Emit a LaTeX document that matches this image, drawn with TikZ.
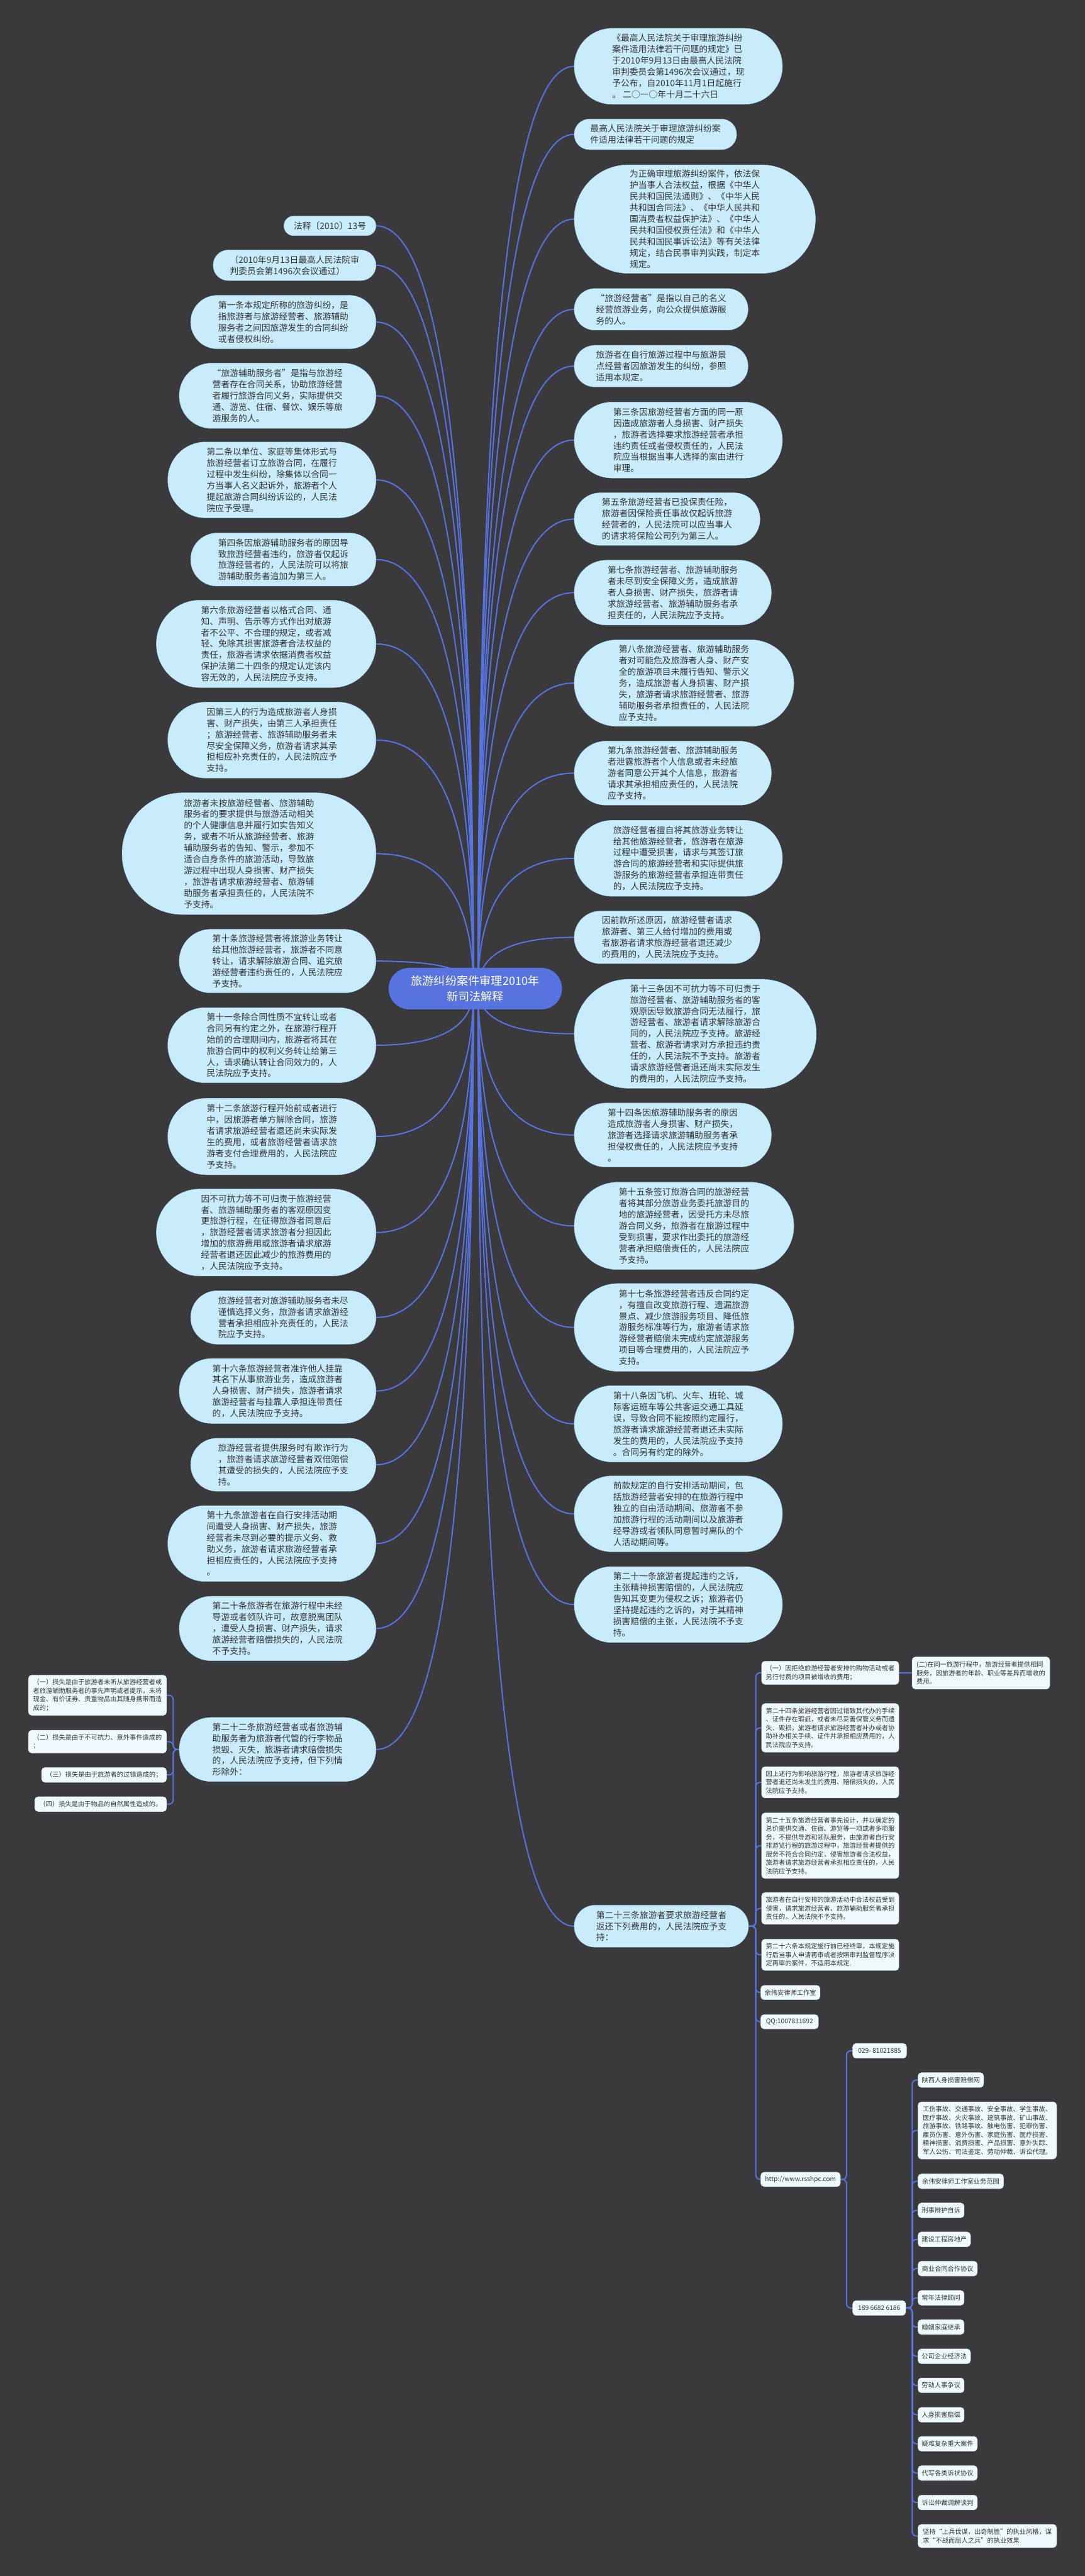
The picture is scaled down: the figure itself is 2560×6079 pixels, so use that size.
\documentclass[tikz,border=0pt]{standalone}
\usepackage{fontspec}
\setmainfont{Noto Sans CJK SC}
\usetikzlibrary{calc}
\definecolor{bgc}{HTML}{3A393B}
\definecolor{linec}{HTML}{5673DF}
\definecolor{bubfill}{HTML}{C8ECFC}
\definecolor{bubline}{HTML}{A8D8F0}
\definecolor{rectfill}{HTML}{EFFAFE}
\definecolor{rectline}{HTML}{C9DCE4}
\definecolor{txt}{HTML}{333333}
\pgfdeclarelayer{back}\pgfdeclarelayer{bg}
\pgfsetlayers{back,bg,main}
\newcommand\bub[6]{\node[bubble,minimum width=#4*0.5pt,minimum height=#5*0.5pt,rounded corners=#5*0.25pt-0.2pt] (#1) at (#2,#3) {#6};}
\newcommand\rbox[6]{\node[rbx,minimum width=#4*0.5pt,minimum height=#5*0.5pt] (#1) at (#2,#3) {#6};}
\begin{document}
\begin{tikzpicture}[x=0.5pt,y=-0.5pt,
  bubble/.style={draw=bubline,line width=0.4pt,fill=bubfill,text=txt,align=left,inner sep=0pt,font=\fontsize{10.25}{13.3}\selectfont},
  rbx/.style={draw=rectline,line width=0.4pt,fill=rectfill,rounded corners=4pt,text=txt,align=left,inner sep=0pt,font=\fontsize{7.6}{10}\selectfont},
  conn/.style={draw=linec,line width=1.5pt},
  sub/.style={draw=linec,line width=1.5pt,rounded corners=5pt}]
\begin{pgfonlayer}{back}
\fill[bgc] (0,0) rectangle (2560,6079);
\end{pgfonlayer}
\useasboundingbox (0,0) rectangle (2560,6079);

% centre
\node[fill=linec,text=white,align=center,inner sep=0pt,minimum width=204.5pt,minimum height=49pt,rounded corners=24.3pt,font=\fontsize{13.5}{19}\selectfont] (C) at (1121.5,2333) {旅游纠纷案件审理2010年\\新司法解释};
\coordinate (cl) at (1117,2333);
\coordinate (cr) at (1128,2333);

% right column
\bub{R1}{1600.5}{156.5}{491}{179}{《最高人民法院关于审理旅游纠纷\\案件适用法律若干问题的规定》已\\于2010年9月13日由最高人民法院\\审判委员会第1496次会议通过，现\\予公布，自2010年11月1日起施行\\。 二○一○年十月二十六日}
\bub{R2}{1546.5}{317}{383}{72}{最高人民法院关于审理旅游纠纷案\\件适用法律若干问题的规定}
\bub{R3}{1639.5}{517}{569}{256}{为正确审理旅游纠纷案件，依法保\\护当事人合法权益，根据《中华人\\民共和国民法通则》、《中华人民\\共和国合同法》、《中华人民共和\\国消费者权益保护法》、《中华人\\民共和国侵权责任法》和《中华人\\民共和国民事诉讼法》等有关法律\\规定，结合民事审判实践，制定本\\规定。}
\bub{R4}{1560}{730}{410}{98}{“旅游经营者”是指以自己的名义\\经营旅游业务，向公众提供旅游服\\务的人。}
\bub{R5}{1560}{864}{410}{98}{旅游者在自行旅游过程中与旅游景\\点经营者因旅游发生的纠纷，参照\\适用本规定。}
\bub{R6}{1600.5}{1038.5}{491}{179}{第三条因旅游经营者方面的同一原\\因造成旅游者人身损害、财产损失\\，旅游者选择要求旅游经营者承担\\违约责任或者侵权责任的，人民法\\院应当根据当事人选择的案由进行\\审理。}
\bub{R7}{1574}{1225}{438}{124}{第五条旅游经营者已投保责任险，\\旅游者因保险责任事故仅起诉旅游\\经营者的，人民法院可以应当事人\\的请求将保险公司列为第三人。}
\bub{R8}{1587.5}{1398.5}{465}{153}{第七条旅游经营者、旅游辅助服务\\者未尽到安全保障义务，造成旅游\\者人身损害、财产损失，旅游者请\\求旅游经营者、旅游辅助服务者承\\担责任的，人民法院应予支持。}
\bub{R9}{1614}{1612}{518}{204}{第八条旅游经营者、旅游辅助服务\\者对可能危及旅游者人身、财产安\\全的旅游项目未履行告知、警示义\\务，造成旅游者人身损害、财产损\\失，旅游者请求旅游经营者、旅游\\辅助服务者承担责任的，人民法院\\应予支持。}
\bub{R10}{1587.5}{1824.5}{465}{151}{第九条旅游经营者、旅游辅助服务\\者泄露旅游者个人信息或者未经旅\\游者同意公开其个人信息，旅游者\\请求其承担相应责任的，人民法院\\应予支持。}
\bub{R11}{1600.5}{2025.5}{491}{179}{旅游经营者擅自将其旅游业务转让\\给其他旅游经营者，旅游者在旅游\\过程中遭受损害，请求与其签订旅\\游合同的旅游经营者和实际提供旅\\游服务的旅游经营者承担连带责任\\的，人民法院应予支持。}
\bub{R12}{1574}{2212}{438}{124}{因前款所述原因，旅游经营者请求\\旅游者、第三人给付增加的费用或\\者旅游者请求旅游经营者退还减少\\的费用的，人民法院应予支持。}
\bub{R13}{1640.5}{2439.5}{571}{257}{第十三条因不可抗力等不可归责于\\旅游经营者、旅游辅助服务者的客\\观原因导致旅游合同无法履行，旅\\游经营者、旅游者请求解除旅游合\\同的，人民法院应予支持。旅游经\\营者、旅游者请求对方承担违约责\\任的，人民法院不予支持。旅游者\\请求旅游经营者退还尚未实际发生\\的费用的，人民法院应予支持。}
\bub{R14}{1587.5}{2678.5}{465}{151}{第十四条因旅游辅助服务者的原因\\造成旅游者人身损害、财产损失，\\旅游者选择请求旅游辅助服务者承\\担侵权责任的，人民法院应予支持\\。}
\bub{R15}{1614}{2893}{518}{206}{第十五条签订旅游合同的旅游经营\\者将其部分旅游业务委托旅游目的\\地的旅游经营者，因受托方未尽旅\\游合同义务，旅游者在旅游过程中\\受到损害，要求作出委托的旅游经\\营者承担赔偿责任的，人民法院应\\予支持。}
\bub{R16}{1614}{3132.5}{518}{207}{第十七条旅游经营者违反合同约定\\，有擅自改变旅游行程、遗漏旅游\\景点、减少旅游服务项目、降低旅\\游服务标准等行为，旅游者请求旅\\游经营者赔偿未完成约定旅游服务\\项目等合理费用的，人民法院应予\\支持。}
\bub{R17}{1600.5}{3360}{491}{180}{第十八条因飞机、火车、班轮、城\\际客运班车等公共客运交通工具延\\误，导致合同不能按照约定履行，\\旅游者请求旅游经营者退还未实际\\发生的费用的，人民法院应予支持\\。合同另有约定的除外。}
\bub{R18}{1600.5}{3572.5}{491}{179}{前款规定的自行安排活动期间，包\\括旅游经营者安排的在旅游行程中\\独立的自由活动期间、旅游者不参\\加旅游行程的活动期间以及旅游者\\经导游或者领队同意暂时离队的个\\人活动期间等。}
\bub{R19}{1600.5}{3786.5}{491}{179}{第二十一条旅游者提起违约之诉，\\主张精神损害赔偿的，人民法院应\\告知其变更为侵权之诉；旅游者仍\\坚持提起违约之诉的，对于其精神\\损害赔偿的主张，人民法院不予支\\持。}
\bub{R20}{1560.5}{4545.5}{411}{99}{第二十三条旅游者要求旅游经营者\\返还下列费用的，人民法院应予支\\持：}

% left column
\bub{L1}{778.5}{533}{217}{46}{法释〔2010〕13号}
\bub{L2}{695}{626}{384}{72}{（2010年9月13日最高人民法院审\\判委员会第1496次会议通过）}
\bub{L3}{668.5}{760}{437}{126}{第一条本规定所称的旅游纠纷，是\\指旅游者与旅游经营者、旅游辅助\\服务者之间因旅游发生的合同纠纷\\或者侵权纠纷。}
\bub{L4}{655}{934}{464}{154}{“旅游辅助服务者”是指与旅游经\\营者存在合同关系，协助旅游经营\\者履行旅游合同义务，实际提供交\\通、游览、住宿、餐饮、娱乐等旅\\游服务的人。}
\bub{L5}{641.5}{1132.5}{491}{179}{第二条以单位、家庭等集体形式与\\旅游经营者订立旅游合同，在履行\\过程中发生纠纷，除集体以合同一\\方当事人名义起诉外，旅游者个人\\提起旅游合同纠纷诉讼的，人民法\\院应予受理。}
\bub{L6}{668.5}{1320.5}{437}{125}{第四条因旅游辅助服务者的原因导\\致旅游经营者违约，旅游者仅起诉\\旅游经营者的，人民法院可以将旅\\游辅助服务者追加为第三人。}
\bub{L7}{628}{1519.5}{518}{206}{第六条旅游经营者以格式合同、通\\知、声明、告示等方式作出对旅游\\者不公平、不合理的规定，或者减\\轻、免除其损害旅游者合法权益的\\责任，旅游者请求依据消费者权益\\保护法第二十四条的规定认定该内\\容无效的，人民法院应予支持。}
\bub{L8}{641.5}{1746.5}{491}{179}{因第三人的行为造成旅游者人身损\\害、财产损失，由第三人承担责任\\；旅游经营者、旅游辅助服务者未\\尽安全保障义务，旅游者请求其承\\担相应补充责任的，人民法院应予\\支持。}
\bub{L9}{587.5}{2014.5}{599}{287}{旅游者未按旅游经营者、旅游辅助\\服务者的要求提供与旅游活动相关\\的个人健康信息并履行如实告知义\\务，或者不听从旅游经营者、旅游\\辅助服务者的告知、警示，参加不\\适合自身条件的旅游活动，导致旅\\游过程中出现人身损害、财产损失\\，旅游者请求旅游经营者、旅游辅\\助服务者承担责任的，人民法院不\\予支持。}
\bub{L10}{655}{2268}{464}{150}{第十条旅游经营者将旅游业务转让\\给其他旅游经营者，旅游者不同意\\转让，请求解除旅游合同、追究旅\\游经营者违约责任的，人民法院应\\予支持。}
\bub{L11}{641.5}{2466.5}{491}{177}{第十一条除合同性质不宜转让或者\\合同另有约定之外，在旅游行程开\\始前的合理期间内，旅游者将其在\\旅游合同中的权利义务转让给第三\\人，请求确认转让合同效力的，人\\民法院应予支持。}
\bub{L12}{641.5}{2682}{491}{180}{第十二条旅游行程开始前或者进行\\中，因旅游者单方解除合同，旅游\\者请求旅游经营者退还尚未实际发\\生的费用，或者旅游经营者请求旅\\游者支付合理费用的，人民法院应\\予支持。}
\bub{L13}{628}{2908.5}{518}{205}{因不可抗力等不可归责于旅游经营\\者、旅游辅助服务者的客观原因变\\更旅游行程，在征得旅游者同意后\\，旅游经营者请求旅游者分担因此\\增加的旅游费用或旅游者请求旅游\\经营者退还因此减少的旅游费用的\\，人民法院应予支持。}
\bub{L14}{668.5}{3109}{437}{126}{旅游经营者对旅游辅助服务者未尽\\谨慎选择义务，旅游者请求旅游经\\营者承担相应补充责任的，人民法\\院应予支持。}
\bub{L15}{655}{3282.5}{464}{153}{第十六条旅游经营者准许他人挂靠\\其名下从事旅游业务，造成旅游者\\人身损害、财产损失，旅游者请求\\旅游经营者与挂靠人承担连带责任\\的，人民法院应予支持。}
\bub{L16}{668.5}{3456.5}{437}{125}{旅游经营者提供服务时有欺诈行为\\，旅游者请求旅游经营者双倍赔偿\\其遭受的损失的，人民法院应予支\\持。}
\bub{L17}{641.5}{3642.5}{491}{179}{第十九条旅游者在自行安排活动期\\间遭受人身损害、财产损失，旅游\\经营者未尽到必要的提示义务、救\\助义务，旅游者请求旅游经营者承\\担相应责任的，人民法院应予支持\\。}
\bub{L18}{655}{3843}{464}{152}{第二十条旅游者在旅游行程中未经\\导游或者领队许可，故意脱离团队\\，遭受人身损害、财产损失，请求\\旅游经营者赔偿损失的，人民法院\\不予支持。}
\bub{L19}{655}{4128.5}{464}{151}{第二十二条旅游经营者或者旅游辅\\助服务者为旅游者代管的行李物品\\损毁、灭失，旅游者请求赔偿损失\\的，人民法院应予支持，但下列情\\形除外：}

% children of L19
\rbox{C1}{230}{4000.5}{326}{95}{（一）损失是由于旅游者未听从旅游经营者或\\者旅游辅助服务者的事先声明或者提示，未将\\现金、有价证券、贵重物品由其随身携带而造\\成的；}
\rbox{C2}{230}{4110}{326}{54}{（二）损失是由于不可抗力、意外事件造成的\\；}
\rbox{C3}{245.5}{4188.5}{295}{35}{（三）损失是由于旅游者的过错造成的；}
\rbox{C4}{237.5}{4257.5}{311}{35}{（四）损失是由于物品的自然属性造成的。}

% children of R20
\rbox{D1}{1959}{3947.5}{324}{55}{（一）因拒绝旅游经营者安排的购物活动或者\\另行付费的项目被增收的费用；}
\rbox{D1b}{2314.5}{3948}{325}{76}{(二)在同一旅游行程中，旅游经营者提供相同\\服务，因旅游者的年龄、职业等差异而增收的\\费用。}
\rbox{D2}{1959}{4077.5}{324}{115}{第二十四条旅游经营者因过错致其代办的手续\\、证件存在瑕疵，或者未尽妥善保管义务而遗\\失、毁损，旅游者请求旅游经营者补办或者协\\助补办相关手续、证件并承担相应费用的，人\\民法院应予支持。}
\rbox{D3}{1959}{4206}{324}{74}{因上述行为影响旅游行程，旅游者请求旅游经\\营者退还尚未发生的费用、赔偿损失的，人民\\法院应予支持。}
\rbox{D4}{1959}{4355.5}{324}{155}{第二十五条旅游经营者事先设计，并以确定的\\总价提供交通、住宿、游览等一项或者多项服\\务，不提供导游和领队服务，由旅游者自行安\\排游览行程的旅游过程中，旅游经营者提供的\\服务不符合合同约定，侵害旅游者合法权益，\\旅游者请求旅游经营者承担相应责任的，人民\\法院应予支持。}
\rbox{D5}{1959}{4503.5}{324}{75}{旅游者在自行安排的旅游活动中合法权益受到\\侵害，请求旅游经营者、旅游辅助服务者承担\\责任的，人民法院不予支持。}
\rbox{D6}{1959}{4613}{324}{74}{第二十六条本规定施行前已经终审，本规定施\\行后当事人申请再审或者按照审判监督程序决\\定再审的案件，不适用本规定.}
\rbox{D7}{1865}{4702}{140}{34}{余伟安律师工作室}
\rbox{D8}{1863}{4771}{136}{34}{QQ:1007831692}
\rbox{D9}{1889}{5143}{188}{34}{http://www.rsshpc.com}
\rbox{E1}{2075.5}{4839.5}{127}{35}{029- 81021885}
\rbox{E2}{2074.5}{5446.5}{125}{35}{189 6682 6186}
\rbox{F1}{2243.5}{4908.5}{155}{35}{陕西人身损害赔偿网}
\rbox{F2}{2329.5}{5027.5}{327}{135}{工伤事故、交通事故、安全事故、学生事故、\\医疗事故、火灾事故、建筑事故、矿山事故、\\旅游事故、铁路事故、触电伤害、犯罪伤害、\\雇员伤害、意外伤害、家庭伤害、医疗损害、\\精神损害、消费损害、产品损害、意外失踪、\\军人公伤、司法鉴定、劳动仲裁、诉讼代理。}
\rbox{F3}{2267}{5147.5}{202}{35}{余伟安律师工作室业务范围}
\rbox{F4}{2220.5}{5216}{109}{35}{刑事辩护自诉}
\rbox{F5}{2228}{5284.5}{124}{35}{建设工程房地产}
\rbox{F6}{2236}{5353.5}{140}{35}{商业合同合作协议}
\rbox{F7}{2220.5}{5422.5}{109}{35}{常年法律顾问}
\rbox{F8}{2220.5}{5491.5}{109}{35}{婚姻家庭继承}
\rbox{F9}{2228}{5560.5}{124}{35}{公司企业经济法}
\rbox{F10}{2220.5}{5629}{109}{35}{劳动人事争议}
\rbox{F11}{2220.5}{5698.5}{109}{35}{人身损害赔偿}
\rbox{F12}{2236}{5767}{140}{35}{疑难复杂重大案件}
\rbox{F13}{2236}{5836}{140}{35}{代写各类诉状协议}
\rbox{F14}{2236}{5905.5}{140}{35}{诉讼仲裁调解谈判}
\rbox{F15}{2329.5}{5984.5}{327}{55}{坚持“上兵伐谋，出奇制胜”的执业风格，谋\\求“不战而屈人之兵”的执业效果}

% connectors
\begin{pgfonlayer}{bg}
\foreach \n in {R1,R2,R3,R4,R5,R6,R7,R8,R9,R10,R11,R12,R13,R14,R15,R16,R17,R18,R19,R20}
  \draw[conn] (cr) .. controls ($(cr)!0.6667!(cr |- \n.west)$) and ($(\n.west)!0.6667!(cr |- \n.west)$) .. (\n.west);
\foreach \n in {L1,L2,L3,L4,L5,L6,L7,L8,L9,L10,L11,L12,L13,L14,L15,L16,L17,L18,L19}
  \draw[conn] (cl) .. controls ($(cl)!0.6667!(cl |- \n.east)$) and ($(\n.east)!0.6667!(cl |- \n.east)$) .. (\n.east);
\coordinate (sL) at ($(L19.west)+(-14,0)$);
\foreach \n in {C1,C2,C3,C4}
  \draw[sub] (L19.west) -- (sL) |- (\n.east);
\coordinate (sR) at ($(R20.east)+(17,0)$);
\foreach \n in {D1,D2,D3,D4,D5,D6,D7,D8,D9}
  \draw[sub] (R20.east) -- (sR) |- (\n.west);
\draw[conn] (D1.east) -- (D1b.west);
\coordinate (sD) at ($(D9.east)+(14,0)$);
\foreach \n in {E1,E2}
  \draw[sub] (D9.east) -- (sD) |- (\n.west);
\coordinate (sE) at ($(E2.east)+(15,0)$);
\foreach \n in {F1,F2,F3,F4,F5,F6,F7,F8,F9,F10,F11,F12,F13,F14,F15}
  \draw[sub] (E2.east) -- (sE) |- (\n.west);
\end{pgfonlayer}
\end{tikzpicture}
\end{document}
